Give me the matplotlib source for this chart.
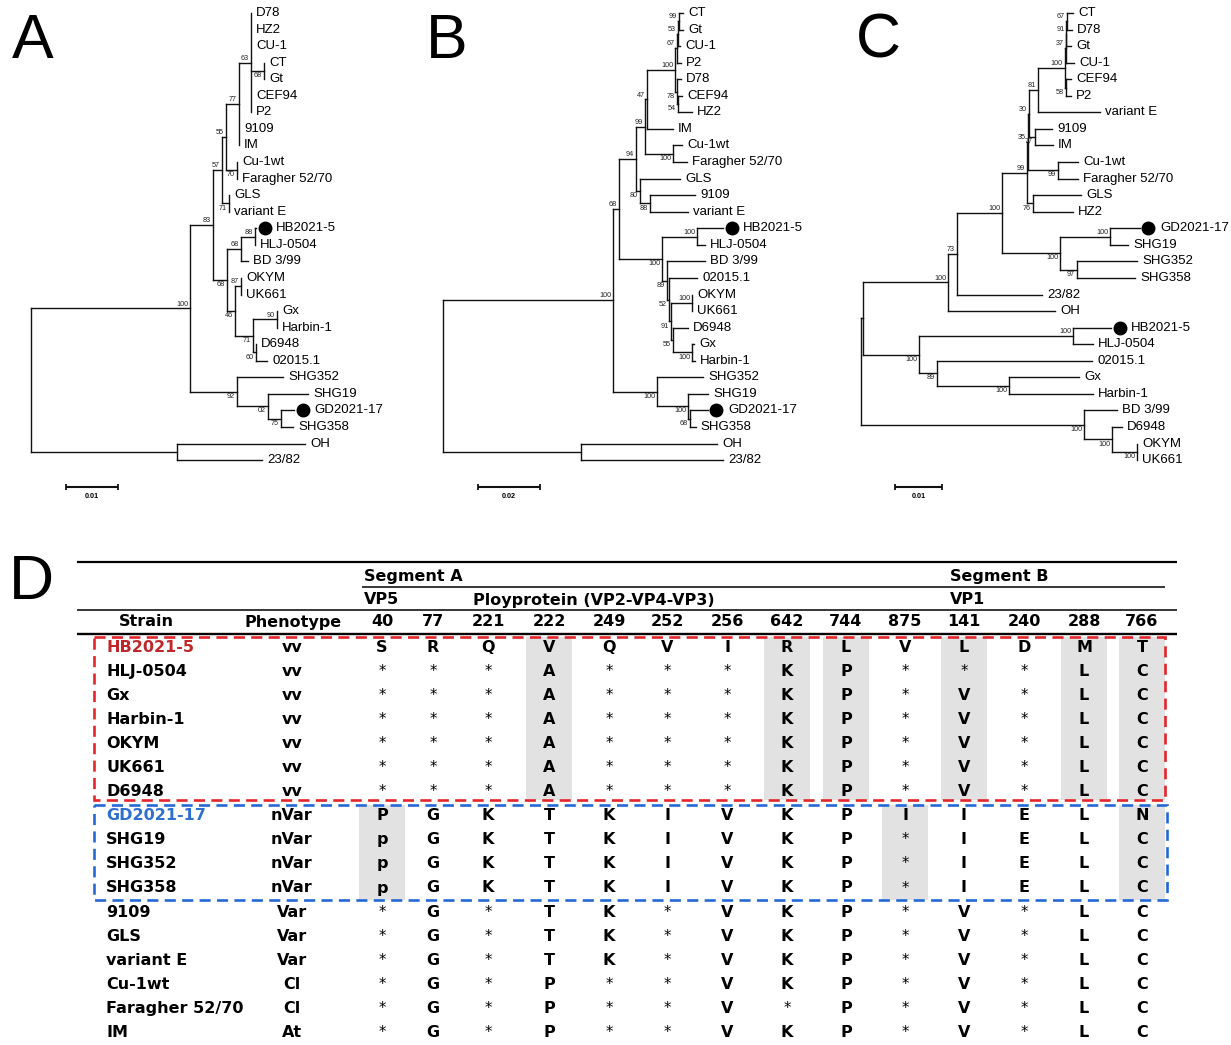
import re
import matplotlib
matplotlib.use("Agg")
import matplotlib.pyplot as plt
from matplotlib import transforms
from matplotlib.patches import Rectangle

# ======================= DATA =======================
# Phylogenetic trees (Newick, branch lengths in substitutions/site, bootstrap after ')')
TREE_A = (
    "(((((("
    "('D78':0,'HZ2':0,'CU-1':0,('CT':0,'Gt':0)68:0.0025,'CEF94':0,'P2':0)63:0.00231,"
    "'9109':0,'IM':0)77:0.0025,"
    "('Cu-1wt':0,'Faragher 52/70':0)70:0.00212)55:0.00077,"
    "('GLS':0,'variant E':0)71:0.00135)57:0.00173,"
    "((('HB2021-5':0.0002,'HLJ-0504':0)88:0.00269,'BD 3/99':0.00135)68:0.00269,"
    "(('OKYM':0,'UK661':0)87:0.00115,"
    "(('Gx':0,'Harbin-1':0)90:0.00462,('D6948':0,'02015.1':0.00212)60:0.00058)71:0.00346)46:0.00154)68:0.00269)83:0.00442,"
    "('SHG352':0.00885,('SHG19':0.00769,('GD2021-17':0.0025,'SHG358':0.00231)75:0.0025)02:0.00596)92:0.00904)100:0.03058,"
    "('OH':0.02462,'23/82':0.01635):0.02808);"
)
TREE_B = (
    "(((((((((("
    "'CT':0.00129,'Gt':0.00129)99:0.00032,'CU-1':0.00065)53:0.00032,'P2':0.00129)67:0.00065,"
    "('D78':0.00129,('CEF94':0.00129,'HZ2':0.00452)54:0.00032)78:0.00065)100:0.00903,"
    "'IM':0.00839)47:0.00065,"
    "('Cu-1wt':0.0029,'Faragher 52/70':0.00452)100:0.00903)99:0.0029,"
    "('GLS':0.0129,('9109':0.01452,'variant E':0.01226)88:0.00323)80:0.00129)94:0.00548,"
    "(('HB2021-5':0.00839,'HLJ-0504':0.00258)100:0.01129,"
    "('BD 3/99':0.01226,('02015.1':0.00903,(('OKYM':0,'UK661':0)100:0.00677,"
    "('D6948':0.00484,('Gx':0.00065,'Harbin-1':0.00097)100:0.00613)55:0.00065)91:0.00065)52:0.00065)89:0.00161)100:0.01387)68:0.00194,"
    "('SHG352':0.01484,('SHG19':0.00645,('GD2021-17':0.0058,'SHG358':0.0019)68:0.00065)100:0.01)100:0.01419)100:0.05484,"
    "('OH':0.04387,'23/82':0.04581):0.04452);"
)
TREE_C = (
    "((((((((((((("
    "'CT':0.00128,'D78':0.00106)67:0.0001,'Gt':0.00096)91:0.0001,'CU-1':0.0017)37:0.00021,"
    "('CEF94':0.00106,'P2':0.00106)58:0.00021)100:0.00574,'variant E':0.01319)81:0.00191,"
    "('9109':0.00362,'IM':0.00383)77:0.00128)30:0.00021,"
    "('Cu-1wt':0.00426,'Faragher 52/70':0.00426)99:0.00638)35:0.00021,"
    "('GLS':0.01021,'HZ2':0.00851)76:0.00128)99:0.00532,"
    "(('GD2021-17':0.00638,'SHG19':0.00383)100:0.01064,('SHG352':0.01277,'SHG358':0.01234)97:0.00362)100:0.01234)100:0.00957,"
    "'23/82':0.01809)73:0.00191,'OH':0.02277)100:0.01809,"
    "(('HB2021-5':0.00809,'HLJ-0504':0.00426)100:0.03277,"
    "('02015.1':0.03298,('Gx':0.01489,'Harbin-1':0.01787)100:0.01532)89:0.00383)100:0.01191):0.00043,"
    "('BD 3/99':0.00702,('D6948':0.00213,('OKYM':0,'UK661':0)100:0.00532)100:0.00596)100:0.04745);"
)
TREES = [TREE_A, TREE_B, TREE_C]
MARKED = ["HB2021-5", "GD2021-17"]
SCALE_LENGTHS = [0.01, 0.02, 0.01]
SCALE_LABELS = ["0.01", "0.02", "0.01"]
PANEL_LETTERS = ["A", "B", "C", "D"]

# Table (panel D)
SEGMENTS = ["Segment A", "Segment B"]
PROTEINS = ["VP5", "Ployprotein (VP2-VP4-VP3)", "VP1"]
COL_HEADERS = ["Strain", "Phenotype"]
SITES = ["40", "77", "221", "222", "249", "252", "256", "642", "744", "875",
         "141", "240", "288", "766"]
STRAINS = ["HB2021-5", "HLJ-0504", "Gx", "Harbin-1", "OKYM", "UK661", "D6948",
           "GD2021-17", "SHG19", "SHG352", "SHG358",
           "9109", "GLS", "variant E", "Cu-1wt", "Faragher 52/70", "IM"]
PHENOTYPES = ["vv", "vv", "vv", "vv", "vv", "vv", "vv",
              "nVar", "nVar", "nVar", "nVar",
              "Var", "Var", "Var", "Cl", "Cl", "At"]
RESIDUES = [
    "S R Q V Q V I R L V L D M T".split(),
    "* * * A * * * K P * * * L C".split(),
    "* * * A * * * K P * V * L C".split(),
    "* * * A * * * K P * V * L C".split(),
    "* * * A * * * K P * V * L C".split(),
    "* * * A * * * K P * V * L C".split(),
    "* * * A * * * K P * V * L C".split(),
    "P G K T K I V K P I I E L N".split(),
    "p G K T K I V K P * I E L C".split(),
    "p G K T K I V K P * I E L C".split(),
    "p G K T K I V K P * I E L C".split(),
    "* G * T K * V K P * V * L C".split(),
    "* G * T K * V K P * V * L C".split(),
    "* G * T K * V K P * V * L C".split(),
    "* G * P * * V K P * V * L C".split(),
    "* G * P * * V * P * V * L C".split(),
    "* G * P * * V K P * V * L C".split(),
]
RED_GROUP_SIZE = 7
BLUE_GROUP_SIZE = 4
RED_SHADED_SITES = ["222", "642", "744", "141", "288", "766"]
BLUE_SHADED_SITES = ["40", "875", "766"]

# ======================= STYLE / LAYOUT =======================
W, H = 1231, 1045
TREE_FONT = "Liberation Sans"
TABLE_FONT = "DejaVu Sans"
LINE_C = "#111111"
RED = "#e3262b"
BLUE = "#2468d6"
RED_TXT = "#c0272d"
BLUE_TXT = "#2f6fd0"
SHADE = "#e2e2e2"

# tree panels: (left px, right px, root px, px per unit, scale-bar start px)
TREE_BOX = [(0, 420, 31, 5200, 66), (420, 850, 443, 3100, 478), (850, 1231, 861, 4700, 895)]
TREE_TOP, TREE_BOT, LEAF_Y0, LEAF_DY, SB_Y = 0, 520, 13, 16.56, 487
LETTER_POS = [(12, 58), (426, 58), (856, 58), (9, 599)]

COL_X = [382, 433, 488, 549, 609, 667, 727, 787, 846, 905, 964, 1024, 1084, 1142]
ROW_Y0, ROW_DY = 647, 24.1
STRAIN_X, PHENO_X = 106, 292
TABLE_L, TABLE_R = 77, 1177

fig = plt.figure(figsize=(W / 100, H / 100), dpi=100)


def parse_newick(s):
    s = s.strip().rstrip(";")
    pos = [0]

    def node():
        n = {"children": [], "name": None, "label": None, "bl": 0.0}
        if s[pos[0]] == "(":
            pos[0] += 1
            while True:
                n["children"].append(node())
                ch = s[pos[0]]
                pos[0] += 1
                if ch == ")":
                    break
            m = re.match(r"[^:,();]*", s[pos[0]:])
            lab = m.group(0).strip()
            pos[0] += len(m.group(0))
            n["label"] = lab or None
        else:
            if s[pos[0]] == "'":
                end = s.index("'", pos[0] + 1)
                n["name"] = s[pos[0] + 1:end]
                pos[0] = end + 1
            else:
                m = re.match(r"[^:,();]+", s[pos[0]:])
                n["name"] = m.group(0)
                pos[0] += len(m.group(0))
        if pos[0] < len(s) and s[pos[0]] == ":":
            pos[0] += 1
            m = re.match(r"[0-9.eE+-]+", s[pos[0]:])
            n["bl"] = float(m.group(0))
            pos[0] += len(m.group(0))
        return n

    return node()


def layout(n, x0, leaves):
    n["x"] = x0 + n["bl"]
    if not n["children"]:
        n["y"] = len(leaves)
        leaves.append(n)
    else:
        for c in n["children"]:
            layout(c, n["x"], leaves)
        ys = [c["y"] for c in n["children"]]
        n["y"] = (min(ys) + max(ys)) / 2.0


def draw_tree(ax, root):
    dot_tr = transforms.offset_copy(ax.transData, fig=fig, x=8.5, y=0, units="dots")

    def rec(n, px, idx):
        if px is not None:
            ax.plot([px, n["x"]], [n["y"], n["y"]], color=LINE_C, lw=1.0,
                    solid_capstyle="projecting")
        if n["children"]:
            ys = [c["y"] for c in n["children"]]
            ax.plot([n["x"], n["x"]], [min(ys), max(ys)], color=LINE_C, lw=1.0,
                    solid_capstyle="projecting")
            for i, c in enumerate(n["children"]):
                rec(c, n["x"], i)
            if n["label"] and px is not None:
                above = idx == 0
                ax.annotate(n["label"], (n["x"], n["y"]),
                            xytext=(-1.4, 0.6 if above else -0.8), textcoords="offset points",
                            ha="right", va="bottom" if above else "top",
                            fontsize=5.2, family=TREE_FONT, color="#222222")
        else:
            if n["name"] in MARKED:
                ax.plot([n["x"]], [n["y"]], "o", ms=9, color="black", transform=dot_tr,
                        clip_on=False)
                off = 14.4
            else:
                off = 3.6
            ax.annotate(n["name"], (n["x"], n["y"]), xytext=(off, 0),
                        textcoords="offset points", ha="left", va="center",
                        fontsize=9.5, family=TREE_FONT, color="black")

    rec(root, None, 0)


# ---------------- table axes (pixel space) ----------------
tax = fig.add_axes([0, 0, 1, 1])
tax.set_xlim(0, W)
tax.set_ylim(H, 0)
tax.axis("off")

# ---------------- trees ----------------
for k, (tree, box) in enumerate(zip(TREES, TREE_BOX)):
    L, R, rootpx, ppu, sbx = box
    ax = fig.add_axes([L / W, 1 - TREE_BOT / H, (R - L) / W, (TREE_BOT - TREE_TOP) / H])
    ax.set_xlim((L - rootpx) / ppu, (R - rootpx) / ppu)
    ax.set_ylim((TREE_BOT - LEAF_Y0) / LEAF_DY, (TREE_TOP - LEAF_Y0) / LEAF_DY)
    ax.axis("off")
    root = parse_newick(tree)
    layout(root, 0.0, [])
    draw_tree(ax, root)
    # scale bar
    x0 = (sbx - rootpx) / ppu
    x1 = x0 + SCALE_LENGTHS[k]
    yb = (SB_Y - LEAF_Y0) / LEAF_DY
    ax.plot([x0, x1], [yb, yb], color=LINE_C, lw=1.5, solid_capstyle="butt")
    ax.plot([x0, x1], [yb, yb], "|", color=LINE_C, ms=5, mew=1.3)
    ax.annotate(SCALE_LABELS[k], ((x0 + x1) / 2, yb), xytext=(0, -4.5),
                textcoords="offset points", ha="center", va="top",
                fontsize=5.2, fontweight="bold", family=TREE_FONT)

# ---------------- panel letters ----------------
for letter, (lx, ly) in zip(PANEL_LETTERS, LETTER_POS):
    fig.text(lx / W, 1 - ly / H, letter, fontsize=45, family=TREE_FONT,
             ha="left", va="baseline")

# ---------------- table D ----------------
TF = dict(family=TABLE_FONT, fontweight="bold", fontsize=11.5)


def row_y(i):
    return ROW_Y0 + i * ROW_DY


red_top, red_bot = 637, row_y(RED_GROUP_SIZE - 1) + 8
blue_top = red_bot + 5
blue_bot = row_y(RED_GROUP_SIZE + BLUE_GROUP_SIZE - 1) + 12

# shading
for site in RED_SHADED_SITES:
    cx = COL_X[SITES.index(site)]
    tax.add_patch(Rectangle((cx - 23, red_top), 46, red_bot - red_top, fc=SHADE, ec="none", zorder=0))
for site in BLUE_SHADED_SITES:
    cx = COL_X[SITES.index(site)]
    tax.add_patch(Rectangle((cx - 23, blue_top), 46, blue_bot - blue_top, fc=SHADE, ec="none", zorder=0))

# rules
tax.plot([TABLE_L, TABLE_R], [562, 562], color="black", lw=1.6, solid_capstyle="butt")
tax.plot([362, 1165], [587, 587], color="black", lw=1.1, solid_capstyle="butt")
tax.plot([TABLE_L, TABLE_R], [610, 610], color="black", lw=1.1, solid_capstyle="butt")
tax.plot([TABLE_L, TABLE_R], [634, 634], color="black", lw=1.7, solid_capstyle="butt")

# header texts
tax.text(364, 576, SEGMENTS[0], ha="left", va="center", **TF)
tax.text(950, 576, SEGMENTS[1], ha="left", va="center", **TF)
tax.text(364, 600, PROTEINS[0], ha="left", va="center", **TF)
tax.text(473, 600, PROTEINS[1], ha="left", va="center", **TF)
tax.text(950, 600, PROTEINS[2], ha="left", va="center", **TF)
tax.text(146, 622, COL_HEADERS[0], ha="center", va="center", **TF)
tax.text(293, 622, COL_HEADERS[1], ha="center", va="center", **TF)
for cx, s in zip(COL_X, SITES):
    tax.text(cx, 622, s, ha="center", va="center", **TF)

# body
for i, (st, ph, res) in enumerate(zip(STRAINS, PHENOTYPES, RESIDUES)):
    y = row_y(i)
    col = RED_TXT if st == MARKED[0] else (BLUE_TXT if st == MARKED[1] else "black")
    tax.text(STRAIN_X, y, st, ha="left", va="center", color=col, **TF)
    tax.text(PHENO_X, y, ph, ha="center", va="center", **TF)
    for cx, r in zip(COL_X, res):
        if r == "*":
            tax.text(cx, y, r, ha="center", va="center", family=TABLE_FONT,
                     fontsize=10.5, fontweight="normal")
        else:
            tax.text(cx, y, r, ha="center", va="center", **TF)

# dashed group boxes
tax.add_patch(Rectangle((94, red_top), 1165 - 94, red_bot - red_top, fill=False,
                        ec=RED, lw=1.9, ls=(0, (4.2, 2.4)), zorder=5))
tax.add_patch(Rectangle((94, blue_top), 1167 - 94, blue_bot - blue_top, fill=False,
                        ec=BLUE, lw=1.9, ls=(0, (4.2, 2.4)), zorder=5))

fig.savefig("out.png", dpi=100)
